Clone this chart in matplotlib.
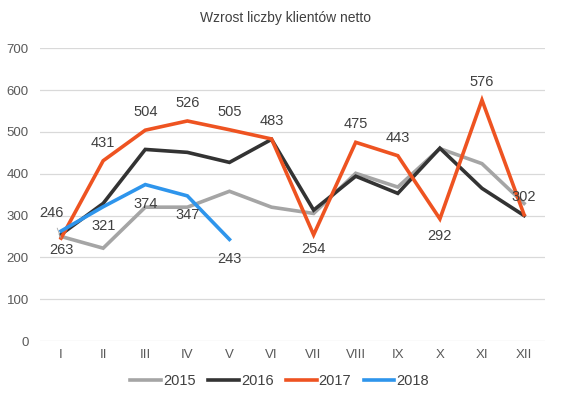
import matplotlib.pyplot as plt
import numpy as np

plt.rcParams['font.family'] = ['Liberation Sans', 'DejaVu Sans']

miesiace = ['I', 'II', 'III', 'IV', 'V', 'VI', 'VII', 'VIII', 'IX', 'X', 'XI', 'XII']
lata = ['2015', '2016', '2017', '2018']
r2015 = [250, 222, 320, 320, 358, 320, 305, 401, 368, 460, 424, 329]
r2016 = [255, 329, 458, 451, 427, 482, 313, 394, 353, 461, 365, 300]
r2017 = [246, 431, 504, 526, 505, 483, 254, 475, 443, 292, 576, 302]
r2018 = [263, 321, 374, 347, 243]

kolory = ['#A5A5A5', '#333333', '#EE5321', '#2E95EC']

fig = plt.figure(figsize=(5.72, 3.98), dpi=100)
ax = fig.add_axes([0.07, 0.143, 0.883, 0.736])

x = np.arange(len(miesiace))
serie = [r2015, r2016, r2017, r2018]
for s, lab, c in zip(serie, lata, kolory):
    ax.plot(x[:len(s)], s, color=c, lw=2.6, label=lab, solid_joinstyle='miter')

# etykiety danych (przesunięcia w punktach)
tekst = dict(fontsize=10.5, color='#404040', ha='center', va='center')
off17 = [None, 13, 13, 13, 13, 13, -10, 13, 13, -12, 13, 13]
for i, v in enumerate(r2017):
    if off17[i] is None:
        ax.annotate(str(v), (x[i], v), xytext=(-7, 18), textcoords='offset points',
                    arrowprops=dict(arrowstyle='-', color='#A5A5A5', lw=0.6,
                                    shrinkA=4, shrinkB=0), **tekst)
    else:
        ax.annotate(str(v), (x[i], v), xytext=(0, off17[i]), textcoords='offset points', **tekst)
for i, v in enumerate(r2018):
    ax.annotate(str(v), (x[i], v), xytext=(0, -14), textcoords='offset points', **tekst)

ax.set_xlim(-0.5, 11.5)
ax.set_ylim(0, 700)
ax.set_yticks(range(0, 701, 100))
ax.set_xticks(x)
ax.set_xticklabels(miesiace)
ax.tick_params(length=0, colors='#595959', labelsize=9.5)
ax.tick_params(axis='y', pad=8)
ax.tick_params(axis='x', pad=6)
ax.grid(axis='y', color='#D9D9D9', lw=0.9)
ax.set_axisbelow(True)
for sp in ax.spines.values():
    sp.set_visible(False)

fig.text(0.5, 0.955, 'Wzrost liczby klientów netto', ha='center', va='center',
         fontsize=10, color='#404040')
fig.legend(loc='center', bbox_to_anchor=(0.489, 0.043), ncol=4, frameon=False,
           fontsize=10.5, handlelength=2.1, handletextpad=0.15, columnspacing=0.85,
           labelcolor='#404040')

fig.savefig('out.png', dpi=100)
